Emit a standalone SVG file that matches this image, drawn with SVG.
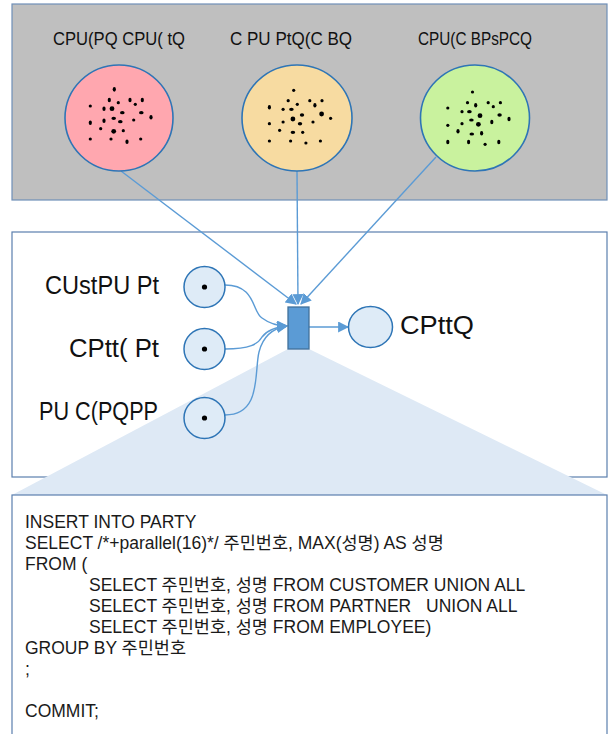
<svg xmlns="http://www.w3.org/2000/svg" width="611" height="734" viewBox="0 0 611 734">
<style>
.lbl{font-family:"Liberation Sans",Arial,sans-serif;fill:#111}
.big{font-size:25px}
.top{font-size:18px}
.sql{font-family:"Liberation Sans","Noto Sans CJK KR",sans-serif;font-size:17.5px;fill:#1a1a1a}
.pl{fill:#DEEBF7;stroke:#2E75B6;stroke-width:1.5}
.big-c{stroke:#2E75B6;stroke-width:1.6}
.con{fill:none;stroke:#5B9BD5;stroke-width:1.4}
</style>
<defs>
<marker id="ah2" viewBox="0 0 10 10" refX="9" refY="5" markerWidth="11" markerHeight="11" orient="auto" markerUnits="userSpaceOnUse">
<path d="M0,0 L10,5 L0,10 z" fill="#5B9BD5"/>
</marker>
</defs>

<!-- top panel -->
<rect x="12" y="4" width="595" height="196" fill="#BFBFBF" stroke="#6F8FB8" stroke-width="1.2"/>
<!-- middle panel -->
<rect x="12" y="232" width="595" height="245" fill="#FFFFFF" stroke="#5B7FAE" stroke-width="1.2"/>
<!-- zoom cone -->
<polygon points="288,349 309,349 607,495 12,495" fill="#DEE9F5"/>
<!-- bottom panel -->
<rect x="12" y="495" width="595" height="250" fill="#FFFFFF" stroke="#5B7FAE" stroke-width="1.2"/>

<g id="labels-top">
<text class="lbl top" x="53" y="45" textLength="132" lengthAdjust="spacingAndGlyphs">CPU(PQ CPU( tQ</text>
<text class="lbl top" x="230" y="45" textLength="122" lengthAdjust="spacingAndGlyphs">C PU PtQ(C BQ</text>
<text class="lbl top" x="418" y="45" textLength="114" lengthAdjust="spacingAndGlyphs">CPU(C BPsPCQ</text>
</g>

<g id="connectors">
<line class="con" x1="121" y1="171" x2="296" y2="304" marker-end="url(#ah2)"/>
<line class="con" x1="297" y1="171" x2="298" y2="304" marker-end="url(#ah2)"/>
<line class="con" x1="436" y1="157" x2="301" y2="304" marker-end="url(#ah2)"/>
<path class="con" d="M225,285 C256,285 252,312 262,318 C270,324 277,326 287,326" marker-end="url(#ah2)"/>
<path class="con" d="M225,349 C250,349 258,344 262,337 C267,330 276,327 287,326" marker-end="url(#ah2)"/>
<path class="con" d="M225,415 C262,415 254,372 259,352 C263,336 274,328 287,326" marker-end="url(#ah2)"/>
<line class="con" x1="309" y1="327" x2="348" y2="327" marker-end="url(#ah2)"/>
</g>

<g id="node-pink">
<ellipse class="big-c" cx="119" cy="118" rx="54" ry="53" fill="#FFA7AF"/>
<g fill="#000">
<ellipse cx="114.3" cy="89.3" rx="1.6" ry="2.4"/>
<ellipse cx="109.3" cy="100" rx="1.6" ry="2.2"/>
<circle cx="118.3" cy="102.7" r="1.6"/>
<ellipse cx="130" cy="100" rx="1.6" ry="2.2"/>
<circle cx="135.3" cy="104.3" r="1.6"/>
<ellipse cx="142.3" cy="100" rx="1.6" ry="2.2"/>
<circle cx="90.3" cy="106" r="1.6"/>
<ellipse cx="104" cy="108.7" rx="1.6" ry="2.2"/>
<circle cx="112" cy="108.7" r="2.4"/>
<ellipse cx="122.3" cy="112.7" rx="2.3" ry="1.6"/>
<ellipse cx="141.3" cy="112.7" rx="2.3" ry="1.6"/>
<ellipse cx="151" cy="117.3" rx="1.6" ry="2.2"/>
<ellipse cx="90.3" cy="122.7" rx="1.6" ry="2.2"/>
<ellipse cx="104" cy="120.7" rx="1.6" ry="2.2"/>
<ellipse cx="113.7" cy="118.3" rx="2.3" ry="1.6"/>
<ellipse cx="120.3" cy="121.7" rx="2.3" ry="1.6"/>
<circle cx="133.7" cy="120" r="1.6"/>
<circle cx="100.7" cy="128.7" r="1.6"/>
<circle cx="113.7" cy="131.3" r="2.4"/>
<circle cx="123.3" cy="130.7" r="1.6"/>
<circle cx="90.3" cy="139" r="1.6"/>
<circle cx="111" cy="139" r="1.6"/>
<ellipse cx="127" cy="141.7" rx="1.6" ry="2.2"/>
<circle cx="140.7" cy="139" r="1.6"/>
</g>
</g>

<g id="node-orange">
<ellipse class="big-c" cx="297" cy="118" rx="55" ry="53" fill="#F7DBA1"/>
<g fill="#000">
<circle cx="293.7" cy="90.3" r="1.6"/>
<circle cx="288.2" cy="100.7" r="1.6"/>
<circle cx="297.3" cy="104.3" r="1.6"/>
<circle cx="309.8" cy="100.7" r="1.6"/>
<ellipse cx="314.9" cy="105.3" rx="1.6" ry="2.3"/>
<circle cx="322" cy="100.7" r="1.6"/>
<ellipse cx="269.4" cy="107.3" rx="1.6" ry="2.3"/>
<circle cx="283.1" cy="109.3" r="1.6"/>
<ellipse cx="291.4" cy="109.3" rx="2.3" ry="1.6"/>
<ellipse cx="302" cy="115" rx="2.2" ry="1.7"/>
<circle cx="321.6" cy="114" r="2.4"/>
<circle cx="330.6" cy="118.3" r="1.6"/>
<circle cx="269.4" cy="123.7" r="1.6"/>
<circle cx="283.1" cy="122" r="1.6"/>
<circle cx="292.9" cy="119" r="2.4"/>
<ellipse cx="300" cy="123.7" rx="2.2" ry="1.8"/>
<circle cx="313" cy="122" r="1.6"/>
<circle cx="279.6" cy="130.3" r="1.6"/>
<ellipse cx="292.9" cy="132.3" rx="2.3" ry="1.6"/>
<circle cx="302.7" cy="132.3" r="1.6"/>
<circle cx="269.4" cy="141" r="1.6"/>
<circle cx="290.6" cy="141" r="1.6"/>
<circle cx="305.9" cy="143" r="1.6"/>
<circle cx="320.4" cy="141" r="1.6"/>
</g>
</g>

<g id="node-green">
<ellipse class="big-c" cx="475" cy="118" rx="54.5" ry="53" fill="#C9F29E"/>
<g fill="#000">
<circle cx="472.5" cy="92" r="1.6"/>
<circle cx="467.5" cy="102.7" r="1.6"/>
<ellipse cx="475.7" cy="105.3" rx="1.6" ry="2.3"/>
<circle cx="488.2" cy="102.7" r="1.6"/>
<circle cx="493.3" cy="106.7" r="1.6"/>
<circle cx="500.4" cy="102.7" r="1.6"/>
<circle cx="447.8" cy="108" r="1.6"/>
<circle cx="462" cy="111.7" r="1.6"/>
<ellipse cx="469.4" cy="111.7" rx="2.3" ry="1.6"/>
<circle cx="480" cy="115.7" r="2.4"/>
<ellipse cx="499.6" cy="115" rx="2.2" ry="1.7"/>
<ellipse cx="509" cy="119" rx="1.6" ry="2.2"/>
<circle cx="447.8" cy="125.3" r="1.6"/>
<circle cx="462" cy="123.7" r="1.6"/>
<ellipse cx="471.4" cy="120" rx="2.3" ry="1.6"/>
<circle cx="478.4" cy="124.3" r="2.4"/>
<ellipse cx="491.8" cy="122" rx="1.6" ry="2.2"/>
<ellipse cx="458" cy="131.3" rx="1.6" ry="2.3"/>
<ellipse cx="471.8" cy="134" rx="2.3" ry="1.6"/>
<ellipse cx="481.6" cy="133.3" rx="1.6" ry="2.2"/>
<ellipse cx="447.8" cy="142" rx="1.6" ry="2.3"/>
<ellipse cx="468.6" cy="142" rx="1.6" ry="2.3"/>
<circle cx="485.1" cy="144.3" r="1.6"/>
<ellipse cx="498.8" cy="142" rx="1.6" ry="2.3"/>
</g>
</g>

<g id="node-customer">
<circle class="pl" cx="204.5" cy="287" r="20.5"/>
<circle cx="204.5" cy="287" r="2.6" fill="#000"/>
<text class="lbl big" x="159" y="294" text-anchor="end" textLength="114" lengthAdjust="spacingAndGlyphs">CUstPU Pt</text>
</g>
<g id="node-partner">
<circle class="pl" cx="204.5" cy="349" r="20.5"/>
<circle cx="204.5" cy="349" r="2.6" fill="#000"/>
<text class="lbl big" x="159" y="357" text-anchor="end" textLength="90" lengthAdjust="spacingAndGlyphs">CPtt( Pt</text>
</g>
<g id="node-employee">
<circle class="pl" cx="204.5" cy="418" r="20.5"/>
<circle cx="204.5" cy="418" r="2.6" fill="#000"/>
<text class="lbl big" x="158" y="420" text-anchor="end" textLength="119" lengthAdjust="spacingAndGlyphs">PU C(PQPP</text>
</g>
<g id="node-transition">
<rect x="288" y="307" width="21" height="42" fill="#5B9BD5" stroke="#41719C" stroke-width="1.3"/>
</g>
<g id="node-party">
<ellipse class="pl" cx="370.5" cy="327" rx="22" ry="20.5"/>
<text class="lbl big" x="400" y="334" textLength="74" lengthAdjust="spacingAndGlyphs">CPttQ</text>
</g>

<g id="sql" class="sql">
<text x="25" y="528">INSERT INTO PARTY</text>
<text x="25" y="549">SELECT /*+parallel(16)*/ 주민번호, MAX(성명) AS 성명</text>
<text x="25" y="570">FROM (</text>
<text x="89" y="591">SELECT 주민번호, 성명 FROM CUSTOMER UNION ALL</text>
<text x="89" y="612">SELECT 주민번호, 성명 FROM PARTNER<tspan x="426">UNION ALL</tspan></text>
<text x="89" y="633">SELECT 주민번호, 성명 FROM EMPLOYEE)</text>
<text x="25" y="654">GROUP BY 주민번호</text>
<text x="25" y="675">;</text>
<text x="25" y="717">COMMIT;</text>
</g>
</svg>
